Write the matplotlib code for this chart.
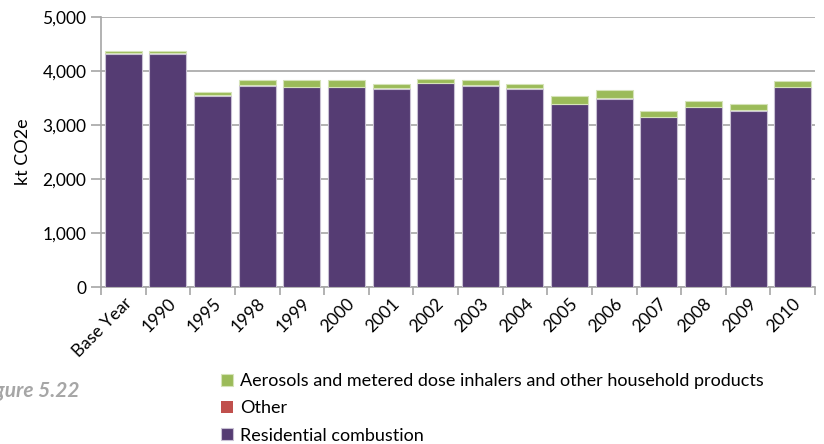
import numpy as np
import matplotlib.pyplot as plt
from matplotlib.ticker import FuncFormatter, FixedLocator

plt.rcParams['font.family'] = ['Lato', 'DejaVu Sans']

years = ['Base Year', '1990', '1995', '1998', '1999', '2000', '2001', '2002',
         '2003', '2004', '2005', '2006', '2007', '2008', '2009', '2010']
residential = [4320, 4320, 3540, 3725, 3695, 3695, 3670, 3770,
               3725, 3670, 3385, 3485, 3140, 3325, 3265, 3695]
other = [10, 10, 10, 8, 8, 8, 8, 8, 8, 8, 8, 8, 8, 8, 8, 8]
aerosols = [35, 35, 60, 95, 125, 125, 85, 80, 95, 85, 150, 150, 118, 118, 118, 120]

purple = '#553c73'
red = '#c0504d'
green = '#9bbb59'
grid_col = '#a6a6a6'

fig = plt.figure(figsize=(8.24, 4.44), dpi=100)
ax = fig.add_axes([101 / 824, 1 - 287 / 444, 714 / 824, 270 / 444])

x = np.arange(len(years))
res = np.array(residential)
oth = np.array(other)
aer = np.array(aerosols)
w = 0.83
ax.bar(x, res, w, color=purple, edgecolor='#c8c0d3', linewidth=0.8,
       label='Residential combustion', zorder=3)
ax.bar(x, oth, w, bottom=res, color=red, edgecolor='none',
       label='Other', zorder=3)
ax.bar(x, aer, w, bottom=res + oth, color=green, edgecolor='#d5e3b8', linewidth=0.8,
       label='Aerosols and metered dose inhalers and other household products', zorder=3)

ax.set_xlim(-0.5, len(years) - 0.5)
ax.set_ylim(0, 5000)
ax.set_yticks(np.arange(0, 5001, 1000))
ax.yaxis.set_major_formatter(FuncFormatter(lambda v, p: f'{int(v):,}'))
ax.grid(axis='y', color=grid_col, linewidth=1.2, zorder=0)
ax.set_axisbelow(True)

for s in ['top', 'right']:
    ax.spines[s].set_visible(False)
ax.spines['left'].set_color(grid_col)
ax.spines['bottom'].set_color(grid_col)
ax.spines['left'].set_linewidth(1.2)
ax.spines['bottom'].set_linewidth(1.2)

ax.set_xticks(x)
ax.set_xticklabels(years, rotation=45, ha='right', rotation_mode='anchor', fontsize=12.5)
ax.tick_params(axis='x', length=0, pad=6)
ax.xaxis.set_minor_locator(FixedLocator(np.arange(-0.5, len(years), 1)))
ax.tick_params(axis='x', which='minor', length=6, color=grid_col, width=1.2)
ax.tick_params(axis='y', length=7, color=grid_col, width=1.2, labelsize=12.5)
ax.set_ylabel('kt CO2e', fontsize=13, labelpad=8)

handles, labels = ax.get_legend_handles_labels()
fig.legend(handles[::-1], labels[::-1], loc='upper left', bbox_to_anchor=(214 / 824, 1 - 366 / 444),
           frameon=False, fontsize=13, handlelength=0.65, handleheight=0.65,
           handletextpad=0.4, labelspacing=0.62, borderaxespad=0)

fig.text(80 / 824, 1 - 391 / 444, 'Figure 5.22', fontsize=15, style='italic',
         fontweight='bold', color='#a6a6a6', va='center', ha='right')

fig.savefig('out.png', dpi=100)
